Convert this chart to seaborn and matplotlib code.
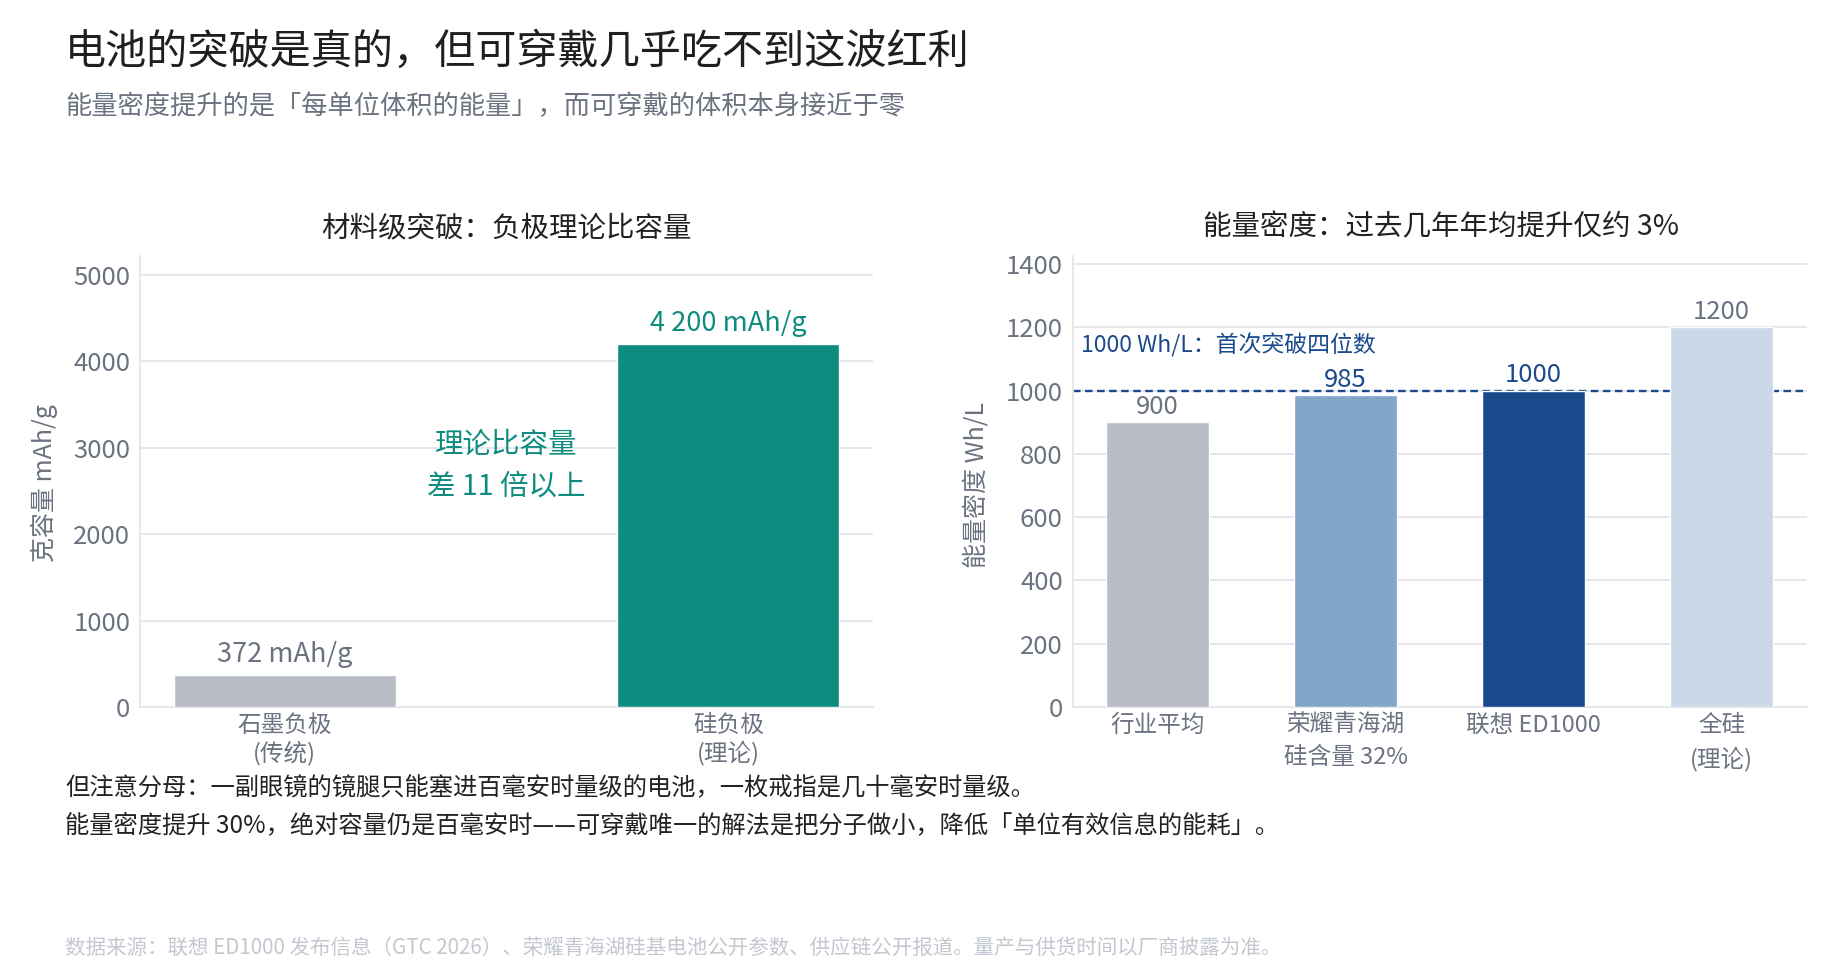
import matplotlib
matplotlib.use("Agg")
import matplotlib.pyplot as plt
import seaborn as sns
import pandas as pd

# ---------------- data ----------------
left_cats = ["石墨负极\n(传统)", "硅负极\n(理论)"]
left_vals = [372, 4200]
left_value_labels = ["372 mAh/g", "4 200 mAh/g"]
left_yticks = [0, 1000, 2000, 3000, 4000, 5000]

right_cats = ["行业平均", "荣耀青海湖\n硅含量 32%", "联想 ED1000", "全硅\n(理论)"]
right_vals = [900, 985, 1000, 1200]
right_value_labels = ["900", "985", "1000", "1200"]
right_yticks = [0, 200, 400, 600, 800, 1000, 1200, 1400]
threshold_value = 1000
threshold_label = "1000 Wh/L：首次突破四位数"
left_note = "理论比容量\n差 11 倍以上"

title = "电池的突破是真的，但可穿戴几乎吃不到这波红利"
subtitle = "能量密度提升的是「每单位体积的能量」，而可穿戴的体积本身接近于零"
left_title = "材料级突破：负极理论比容量"
right_title = "能量密度：过去几年年均提升仅约 3%"
left_ylabel = "克容量 mAh/g"
right_ylabel = "能量密度 Wh/L"
body_lines = [
    "但注意分母：一副眼镜的镜腿只能塞进百毫安时量级的电池，一枚戒指是几十毫安时量级。",
    "能量密度提升 30%，绝对容量仍是百毫安时——可穿戴唯一的解法是把分子做小，降低「单位有效信息的能耗」。",
]
footer = "数据来源：联想 ED1000 发布信息（GTC 2026）、荣耀青海湖硅基电池公开参数、供应链公开报道。量产与供货时间以厂商披露为准。"

# ---------------- styles ----------------
GRAY_BAR = "#b9bdc6"
TEAL = "#0e8c7f"
BLUE_MID = "#82a5ca"
BLUE_DARK = "#1a4a8c"
BLUE_LIGHT = "#cbd8e8"
TXT = "#222222"
TXT_GRAY = "#6b7280"
GRID = "#e6e7eb"
FOOT = "#c3c7cf"

left_colors = [GRAY_BAR, TEAL]
left_label_colors = [TXT_GRAY, TEAL]
right_colors = [GRAY_BAR, BLUE_MID, BLUE_DARK, BLUE_LIGHT]
right_label_colors = [TXT_GRAY, BLUE_DARK, BLUE_DARK, TXT_GRAY]

sns.set_theme(style="white")
plt.rcParams["font.family"] = ["Noto Sans CJK SC", "DejaVu Sans"]
plt.rcParams["axes.unicode_minus"] = False

W, H = 1847, 973
fig = plt.figure(figsize=(W / 100, H / 100), dpi=100)
fig.patch.set_facecolor("white")

ax1 = fig.add_axes([140 / W, 1 - 707 / H, 733 / W, 451 / H])
ax2 = fig.add_axes([1072.5 / W, 1 - 707 / H, 734.5 / W, 451 / H])

df1 = pd.DataFrame({"cat": left_cats, "val": left_vals})
df2 = pd.DataFrame({"cat": right_cats, "val": right_vals})

sns.barplot(data=df1, x="cat", y="val", hue="cat",
            palette=dict(zip(left_cats, left_colors)), width=0.5,
            saturation=1, legend=False, ax=ax1, zorder=3)
sns.barplot(data=df2, x="cat", y="val", hue="cat",
            palette=dict(zip(right_cats, right_colors)), width=0.55,
            saturation=1, legend=False, ax=ax2, zorder=3)


def style_axis(ax, yticks, ylim, xlim, xls):
    ax.set_ylim(*ylim)
    ax.set_xlim(*xlim)
    ax.set_yticks(yticks)
    ax.set_yticklabels([str(t) for t in yticks])
    ax.set_xlabel("")
    ax.set_ylabel("")
    ax.yaxis.grid(True, color=GRID, linewidth=1.4, zorder=0)
    ax.xaxis.grid(False)
    ax.set_axisbelow(True)
    for s in ["top", "right"]:
        ax.spines[s].set_visible(False)
    for s in ["left", "bottom"]:
        ax.spines[s].set_color(GRID)
        ax.spines[s].set_linewidth(1.4)
    ax.tick_params(axis="y", length=0, pad=7, labelsize=18.5, labelcolor=TXT_GRAY)
    ax.tick_params(axis="x", length=0, pad=5, labelsize=17, labelcolor=TXT_GRAY)
    for t in ax.get_xticklabels():
        t.set_linespacing(xls)


style_axis(ax1, left_yticks, (0, 5215), (-0.326, 1.326), 1.2)
style_axis(ax2, right_yticks, (0, 1426), (-0.452, 3.454), 1.5)

# value labels
left_offsets = [14.5, 14.8]
for i, (v, lab, c) in enumerate(zip(left_vals, left_value_labels, left_label_colors)):
    ax1.annotate(lab, xy=(i, v), xytext=(0, left_offsets[i]), textcoords="offset points",
                 ha="center", va="center", fontsize=19.5, color=c, zorder=5)
for i, (v, lab, c) in enumerate(zip(right_vals, right_value_labels, right_label_colors)):
    ax2.annotate(lab, xy=(i, v), xytext=(0, 11), textcoords="offset points",
                 ha="center", va="center", fontsize=18.5, color=c, zorder=5)

ax1.text(0.5, 2790, left_note, ha="center", va="center", fontsize=20.5,
         color=TEAL, linespacing=1.5, zorder=5)

ax2.axhline(threshold_value, color=BLUE_DARK, linewidth=1.7,
            linestyle=(0, (3.2, 1.9)), zorder=2)
ax2.text(0.012, 1143, threshold_label, transform=ax2.get_yaxis_transform(),
         ha="left", va="center", fontsize=16.5, color=BLUE_DARK, zorder=5)

# axis labels
fig.text(44 / W, 1 - 483 / H, left_ylabel, rotation=90, ha="center", va="center",
         fontsize=18, color=TXT_GRAY)
fig.text(976 / W, 1 - 485 / H, right_ylabel, rotation=90, ha="center", va="center",
         fontsize=18, color=TXT_GRAY)

# subplot titles
fig.text(506.5 / W, 1 - 228 / H, left_title, ha="center", va="center",
         fontsize=20.5, color=TXT)
fig.text(1441 / W, 1 - 227 / H, right_title, ha="center", va="center",
         fontsize=20.5, color=TXT)

# headline texts
fig.text(65 / W, 1 - 52 / H, title, ha="left", va="center", fontsize=29.6, color="#1f1f1f")
fig.text(65 / W, 1 - 106.5 / H, subtitle, ha="left", va="center", fontsize=18.9, color=TXT_GRAY)
fig.text(65 / W, 1 - 788 / H, body_lines[0], ha="left", va="center", fontsize=17.5, color=TXT)
fig.text(65 / W, 1 - 826 / H, body_lines[1], ha="left", va="center", fontsize=17.5, color=TXT)
fig.text(65 / W, 1 - 948 / H, footer, ha="left", va="center", fontsize=14.8, color=FOOT)

fig.savefig("out.png", dpi=100, facecolor="white")
